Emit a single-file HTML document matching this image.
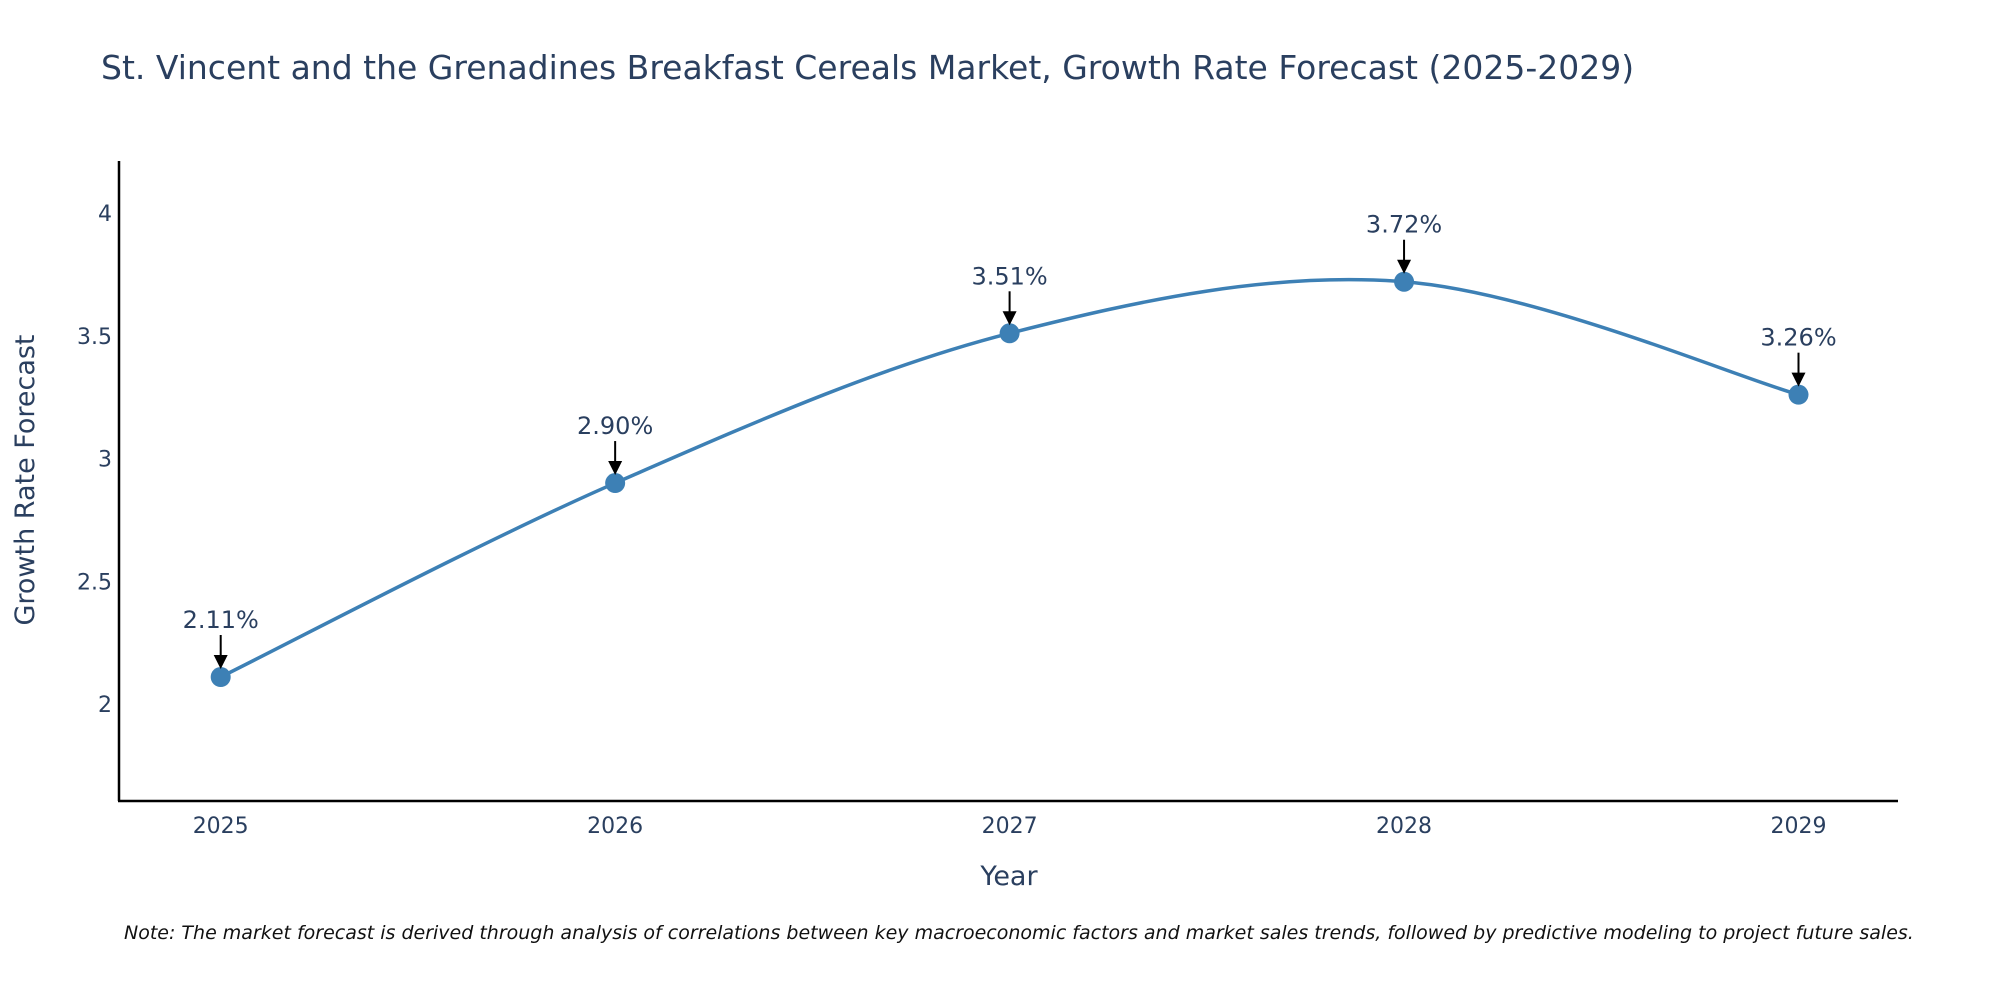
<!DOCTYPE html>
<html><head><meta charset="utf-8"><style>
body{margin:0;background:#fff;}
svg text{font-family:"DejaVu Sans","Liberation Sans",sans-serif;}
</style></head><body>
<svg id="chart" width="2000" height="1000" xmlns="http://www.w3.org/2000/svg">
<text x="101" y="79" font-size="33" fill="#2a3f5f">St. Vincent and the Grenadines Breakfast Cereals Market, Growth Rate Forecast (2025-2029)</text>
<g id="yticks"></g><g id="xticks"></g>
<line x1="119" y1="161" x2="119" y2="801" stroke="#000" stroke-width="2.5"/>
<line x1="118" y1="801" x2="1898" y2="801" stroke="#000" stroke-width="2.5"/>
<path id="line" fill="none" stroke="#3d80b5" stroke-width="3.5"/>
<g id="marks"></g>
<text x="1009" y="885" font-size="27" fill="#2a3f5f" text-anchor="middle">Year</text>
<text transform="translate(34,480) rotate(-90)" font-size="27" fill="#2a3f5f" text-anchor="middle">Growth Rate Forecast</text>
<text x="124" y="939" font-size="19" font-style="italic" fill="#111">Note: The market forecast is derived through analysis of correlations between key macroeconomic factors and market sales trends, followed by predictive modeling to project future sales.</text>
</svg>
<script>
const years=[2025,2026,2027,2028,2029];
const values=[2.11,2.90,3.51,3.72,3.26];
const labels=["2.11%","2.90%","3.51%","3.72%","3.26%"];
const yTicks=[2,2.5,3,3.5,4];
const NS="http://www.w3.org/2000/svg";
const X=v=>220.7+(v-2025)*(1798.5-220.7)/4;
const Y=v=>704-(v-2)*245.5;
function mk(t,a,p){const e=document.createElementNS(NS,t);for(const k in a)e.setAttribute(k,a[k]);p.appendChild(e);return e;}
const yt=document.getElementById('yticks');
yTicks.forEach(t=>{const e=mk('text',{x:112,y:Y(t)+8,'font-size':22,fill:'#2a3f5f','text-anchor':'end'},yt);


e.textContent=t;});
const xt=document.getElementById('xticks');
years.forEach(t=>{const e=mk('text',{x:X(t),y:833,'font-size':22,fill:'#2a3f5f','text-anchor':'middle'},xt);


e.textContent=t;});
const pts=years.map((y,i)=>[X(y),Y(values[i])]);
let d=`M${pts[0][0]},${pts[0][1]}`;
for(let i=0;i<pts.length-1;i++){const p0=pts[Math.max(0,i-1)],p1=pts[i],p2=pts[i+1],p3=pts[Math.min(pts.length-1,i+2)];
const t=1/6;d+=` C${p1[0]+(p2[0]-p0[0])*t},${p1[1]+(p2[1]-p0[1])*t} ${p2[0]-(p3[0]-p1[0])*t},${p2[1]-(p3[1]-p1[1])*t} ${p2[0]},${p2[1]}`;}
document.getElementById('line').setAttribute('d',d);
const m=document.getElementById('marks');
pts.forEach((p,i)=>{
const c=mk('circle',{cx:p[0],cy:p[1],r:10,fill:'#3d80b5'},m);


const l=mk('line',{x1:p[0],y1:p[1]-42,x2:p[0],y2:p[1]-20,stroke:'#000','stroke-width':2},m);


const h=mk('polygon',{points:`${p[0]-7},${p[1]-22} ${p[0]+7},${p[1]-22} ${p[0]},${p[1]-8}`,fill:'#000'},m);


const tx=mk('text',{x:p[0],y:p[1]-49,'font-size':24,fill:'#2a3f5f','text-anchor':'middle'},m);


tx.textContent=labels[i];});
</script>
</body></html>
